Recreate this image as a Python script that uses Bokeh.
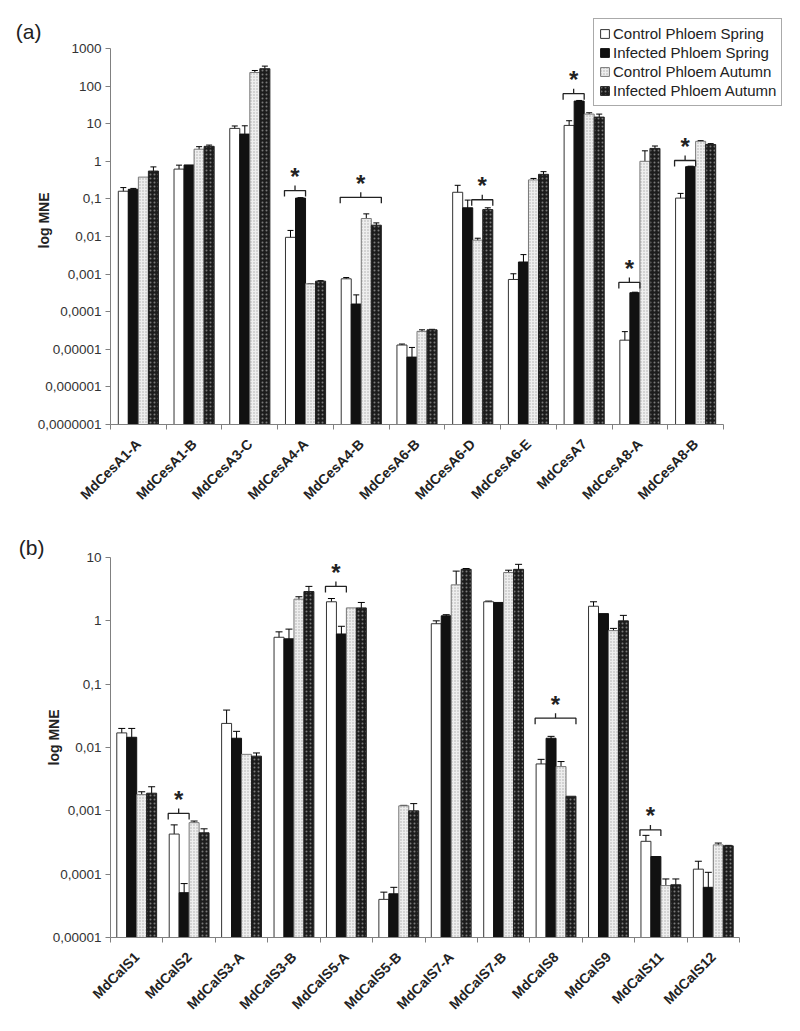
import math
from bokeh.plotting import figure
from bokeh.models import (Range1d, FixedTicker, CustomJSTickFormatter, ColumnDataSource,
                          Whisker, TeeHead, Legend, LegendItem, LogAxis)
from bokeh.layouts import column
from bokeh.core.properties import value
from bokeh.embed import file_html
from bokeh.resources import INLINE

# ---------------- data ----------------
series_names = ["Control Phloem Spring", "Infected Phloem Spring",
                "Control Phloem Autumn", "Infected Phloem Autumn"]

genes_a = ["MdCesA1-A", "MdCesA1-B", "MdCesA3-C", "MdCesA4-A", "MdCesA4-B", "MdCesA6-B",
           "MdCesA6-D", "MdCesA6-E", "MdCesA7", "MdCesA8-A", "MdCesA8-B"]
cps_a = [0.16, 0.62, 7.5, 0.0095, 0.00075, 1.3e-5, 0.15, 0.00072, 9.0, 1.75e-5, 0.105]
cps_a_err = [0.04, 0.17, 1.2, 0.005, 0.00006, 8e-7, 0.08, 0.0003, 3.0, 1.2e-5, 0.035]
ips_a = [0.18, 0.8, 5.3, 0.105, 0.00016, 6.2e-6, 0.058, 0.0021, 40.0, 0.00032, 0.72]
ips_a_err = [0.01, 0.0, 3.5, 0.003, 0.00012, 5e-6, 0.035, 0.0012, 1.5, 0.00001, 0.02]
cpa_a = [0.38, 2.1, 230.0, 0.00055, 0.03, 3.0e-5, 0.008, 0.32, 18.0, 1.0, 3.4]
cpa_a_err = [0.0, 0.35, 30.0, 0.00001, 0.01, 3e-6, 0.001, 0.03, 1.5, 0.9, 0.15]
ipa_a = [0.55, 2.5, 290.0, 0.00065, 0.02, 3.3e-5, 0.052, 0.45, 15.0, 2.2, 2.8]
ipa_a_err = [0.16, 0.2, 50.0, 0.00002, 0.003, 1e-6, 0.006, 0.08, 3.0, 0.35, 0.15]
# significance brackets: (gene index, first series, last series, bracket level)
sig_a = [(3, 0, 1, 0.166), (4, 0, 3, 0.11), (6, 2, 3, 0.095),
         (8, 0, 1, 63.0), (9, 0, 1, 0.0006), (10, 0, 1, 1.05)]

genes_b = ["MdCalS1", "MdCalS2", "MdCalS3-A", "MdCalS3-B", "MdCalS5-A", "MdCalS5-B",
           "MdCalS7-A", "MdCalS7-B", "MdCalS8", "MdCalS9", "MdCalS11", "MdCalS12"]
cps_b = [0.017, 0.00043, 0.024, 0.55, 2.0, 4.0e-5, 0.9, 2.0, 0.0055, 1.7, 0.00033, 0.00012]
cps_b_err = [0.003, 0.00017, 0.015, 0.12, 0.25, 1.2e-5, 0.1, 0.05, 0.001, 0.3, 0.00008, 0.00004]
ips_b = [0.0145, 5.1e-5, 0.014, 0.52, 0.62, 4.9e-5, 1.2, 1.95, 0.014, 1.3, 0.00019, 6.2e-5]
ips_b_err = [0.0055, 2e-5, 0.004, 0.22, 0.2, 1.3e-5, 0.05, 0.0, 0.001, 0.0, 0.0, 4.5e-5]
cpa_b = [0.0018, 0.00065, 0.0078, 2.2, 1.6, 0.0012, 3.7, 5.8, 0.005, 0.7, 6.6e-5, 0.00029]
cpa_b_err = [0.0002, 0.00004, 0.0, 0.2, 0.0, 0.00002, 2.4, 0.5, 0.001, 0.06, 1.8e-5, 0.00002]
ipa_b = [0.0019, 0.00045, 0.0073, 2.9, 1.6, 0.001, 6.5, 6.5, 0.0017, 1.0, 6.8e-5, 0.00028]
ipa_b_err = [0.0005, 0.00007, 0.0009, 0.6, 0.35, 0.0003, 0.2, 1.3, 0.0, 0.22, 1.6e-5, 5e-6]
sig_b = [(1, 0, 1, 0.00091), (4, 0, 1, 3.5), (8, 0, 3, 0.029), (10, 0, 1, 0.0005)]

# ---------------- styling ----------------
FONT = "Liberation Sans"
styles = [
    dict(fill_color="white", line_color="#333333"),
    dict(fill_color="#111111", line_color="#111111"),
    dict(fill_color="#eeeeee", line_color="#777777", hatch_pattern="dot",
         hatch_color="#aaaaaa", hatch_scale=3, hatch_weight=1),
    dict(fill_color="#1c1c1c", line_color="#222222", hatch_pattern="dot",
         hatch_color="#7a7a7a", hatch_scale=4, hatch_weight=1),
]

Y_FMT = CustomJSTickFormatter(code="""
if (tick >= 1) return tick.toFixed(0);
const d = Math.round(-Math.log10(tick));
return tick.toFixed(d).replace('.', ',');
""")


def make_panel(genes, vals, errs, sigs, ymin_exp, ymax_exp,
               border_top, extra_top_px, axis_px, extra_right_px, axis_h_px, min_right,
               min_bottom, letter, letter_above_px, letter_standoff, label_standoff, cap,
               bar_w, legend=False):
    n = len(genes)
    px_per_decade = axis_h_px / (ymax_exp - ymin_exp)
    # the frame reaches beyond the axes (room for legend / panel letter);
    # the axes themselves are bounded to the data region
    x_end = n * (axis_px + extra_right_px) / axis_px
    y_top = 10.0 ** (ymax_exp + extra_top_px / px_per_decade)
    p = figure(frame_width=axis_px + extra_right_px, frame_height=axis_h_px + extra_top_px,
               output_backend="svg", toolbar_location=None,
               y_axis_type="log", x_range=Range1d(0, x_end),
               y_range=Range1d(10.0 ** ymin_exp, y_top),
               min_border_left=110, min_border_top=border_top, min_border_right=min_right,
               min_border_bottom=min_bottom)
    p.outline_line_color = None
    p.grid.visible = False
    p.background_fill_color = "white"

    base = 10.0 ** ymin_exp
    offsets = [-1.5 * bar_w, -0.5 * bar_w, 0.5 * bar_w, 1.5 * bar_w]
    renderers = []
    for k in range(4):
        xs = [i + 0.5 + offsets[k] for i in range(n)]
        src = ColumnDataSource(dict(x=xs, top=vals[k]))
        r = p.vbar(x="x", top="top", bottom=base, width=bar_w, source=src,
                   line_width=1, **styles[k])
        renderers.append(r)
        wx, wu, wl = [], [], []
        for i in range(n):
            e = errs[k][i]
            if e > 0:
                wx.append(xs[i])
                wu.append(vals[k][i] + e)
                wl.append(max(vals[k][i] - e, base))
        wsrc = ColumnDataSource(dict(x=wx, upper=wu, lower=wl))
        p.add_layout(Whisker(source=wsrc, base="x", upper="upper", lower="lower",
                             line_color="black", line_width=1,
                             upper_head=TeeHead(size=cap, line_color="black", line_width=1),
                             lower_head=TeeHead(size=cap, line_color="black", line_width=1)))

    # significance brackets
    drop = 10 ** (6.0 / px_per_decade)
    rise = 10 ** (5.0 / px_per_decade)
    bxs, bys, sx, sy = [], [], [], []
    for (g, s0, s1, lvl) in sigs:
        xl = g + 0.5 + offsets[s0] - bar_w * 0.6
        xr = g + 0.5 + offsets[s1] + bar_w * 0.5
        xc = (xl + xr) / 2
        bxs.append([xl, xl, xc, xc, xc, xr, xr])
        bys.append([lvl / drop, lvl, lvl, lvl * rise, lvl, lvl, lvl / drop])
        sx.append(xc)
        sy.append(lvl * rise)
    p.multi_line(xs=bxs, ys=bys, line_color="#222222", line_width=1.3)
    p.text(x=sx, y=sy, text=["*"] * len(sx), text_align="center", text_baseline="alphabetic",
           text_font=value(FONT), text_font_size="24px", text_font_style="bold",
           text_color="#222222", y_offset=-9)

    # x axis: labels centered in categories, ticks on boundaries
    xa = p.xaxis[0]
    xa.bounds = (0, n)
    xa.ticker = FixedTicker(ticks=[i + 0.5 for i in range(n)], minor_ticks=list(range(n + 1)))
    xa.formatter = CustomJSTickFormatter(args=dict(labels=genes),
                                         code="return labels[Math.round(tick - 0.5)];")
    xa.major_tick_out = 0
    xa.major_tick_in = 0
    xa.minor_tick_out = 5
    xa.minor_tick_in = 0
    xa.minor_tick_line_color = "#808080"
    xa.axis_line_color = "#808080"
    xa.major_label_orientation = math.pi / 4
    xa.major_label_text_font = FONT
    xa.major_label_text_font_style = "bold"
    xa.major_label_text_font_size = "14px"
    xa.major_label_text_color = "#222222"
    xa.major_label_standoff = 12

    ya = p.yaxis[0]
    ya.bounds = (10.0 ** ymin_exp, 10.0 ** ymax_exp)
    ya.ticker = FixedTicker(ticks=[10.0 ** k for k in range(ymin_exp, ymax_exp + 1)], minor_ticks=[])
    ya.formatter = Y_FMT
    ya.axis_line_color = "#808080"
    ya.major_tick_line_color = "#808080"
    ya.major_tick_out = 5
    ya.major_tick_in = 0
    ya.minor_tick_out = 0
    ya.minor_tick_in = 0
    ya.major_label_text_font = FONT
    ya.major_label_text_font_size = "13.5px"
    ya.major_label_text_color = "#333333"
    ya.major_label_standoff = 4
    ya.axis_label = "log MNE"
    ya.axis_label_text_font = FONT
    ya.axis_label_text_font_style = "bold"
    ya.axis_label_text_font_size = "14px"
    ya.axis_label_text_color = "#222222"
    ya.axis_label_standoff = label_standoff

    # panel letter, carried by an extra (line-less) axis on the left
    y_letter = 10.0 ** (ymax_exp + letter_above_px / px_per_decade)
    la = LogAxis(ticker=FixedTicker(ticks=[y_letter], minor_ticks=[]),
                 formatter=CustomJSTickFormatter(args=dict(t=letter), code="return t;"),
                 axis_line_color=None, major_tick_line_color=None, minor_tick_line_color=None,
                 major_tick_out=0, major_tick_in=0, minor_tick_out=0, minor_tick_in=0,
                 major_label_standoff=letter_standoff, major_label_text_font=FONT,
                 major_label_text_font_size="21px", major_label_text_color="#222222")
    p.add_layout(la, "left")

    if legend:
        items = [LegendItem(label=series_names[k], renderers=[renderers[k]]) for k in range(4)]
        lg = Legend(items=items, location=(483, 318), orientation="vertical")
        lg.label_text_font = FONT
        lg.label_text_font_size = "15px"
        lg.label_text_color = "#222222"
        lg.glyph_width = 11
        lg.glyph_height = 11
        lg.label_standoff = 3
        lg.label_height = 19
        lg.spacing = 0
        lg.padding = 5
        lg.margin = 0
        lg.border_line_color = "#555555"
        lg.border_line_width = 1
        lg.background_fill_color = "white"
        lg.background_fill_alpha = 1.0
        p.add_layout(lg)
    return p


pa = make_panel(genes_a, [cps_a, ips_a, cpa_a, ipa_a],
                [cps_a_err, ips_a_err, cpa_a_err, ipa_a_err], sig_a,
                -7, 3, border_top=16, extra_top_px=32, axis_px=613, extra_right_px=63,
                axis_h_px=376, min_right=6, min_bottom=93,
                letter="(a)", letter_above_px=17, letter_standoff=-9, label_standoff=-17,
                cap=6, bar_w=0.18, legend=True)
pb = make_panel(genes_b, [cps_b, ips_b, cpa_b, ipa_b],
                [cps_b_err, ips_b_err, cpa_b_err, ipa_b_err], sig_b,
                -5, 1, border_top=20, extra_top_px=20, axis_px=629, extra_right_px=0,
                axis_h_px=380, min_right=53, min_bottom=84,
                letter="(b)", letter_above_px=10, letter_standoff=-2, label_standoff=-12,
                cap=7, bar_w=0.19)

layout = column(pa, pb, spacing=0)
open("out.html", "w").write(file_html(layout, INLINE))
